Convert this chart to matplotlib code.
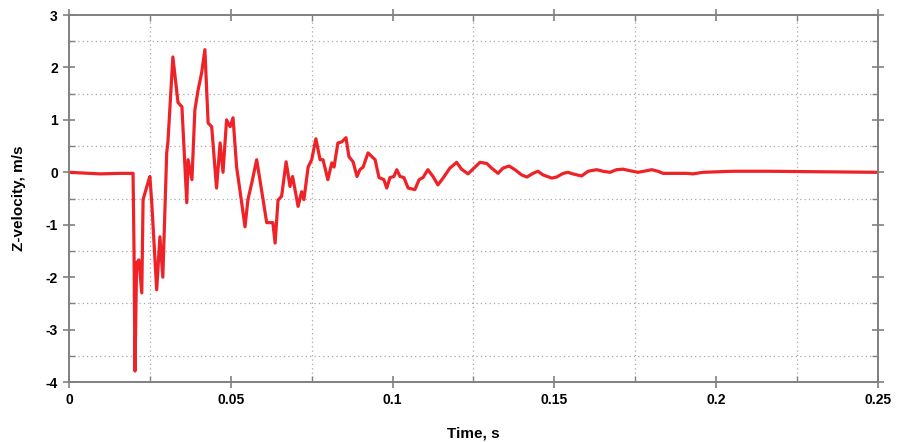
import matplotlib
matplotlib.use("Agg")
import matplotlib.pyplot as plt
from matplotlib.ticker import MultipleLocator

# time (s) and Z-velocity (m/s)
time = [0.0, 0.0096, 0.0158, 0.0198, 0.0201, 0.0204, 0.0209, 0.0216, 0.0225, 0.0229,
        0.0244, 0.0250, 0.0256, 0.0271, 0.0281, 0.0290, 0.0302, 0.0306, 0.0321, 0.0337,
        0.0349, 0.0364, 0.0368, 0.0380, 0.0389, 0.0399, 0.0410, 0.0420, 0.0430, 0.0441,
        0.0456, 0.0467, 0.0476, 0.0487, 0.0498, 0.0507, 0.0518, 0.0528, 0.0544, 0.0553,
        0.0565, 0.0580, 0.0590, 0.0611, 0.0630, 0.0637, 0.0646, 0.0657, 0.0671, 0.0683,
        0.0691, 0.0708, 0.0719, 0.0726, 0.0739, 0.0750, 0.0763, 0.0776, 0.0785, 0.0800,
        0.0812, 0.0819, 0.0831, 0.0843, 0.0856, 0.0865, 0.0878, 0.0890, 0.0899, 0.0909,
        0.0924, 0.0946, 0.0958, 0.0973, 0.0982, 0.0992, 0.1004, 0.1013, 0.1023, 0.1035,
        0.1048, 0.1069, 0.1082, 0.1094, 0.1109, 0.1125, 0.1140, 0.1156, 0.1177, 0.1198,
        0.1213, 0.1233, 0.1248, 0.1270, 0.1291, 0.1306, 0.1326, 0.1341, 0.1360, 0.1378,
        0.1399, 0.1415, 0.1434, 0.1449, 0.1465, 0.1492, 0.1507, 0.1527, 0.1542, 0.1557,
        0.1584, 0.1604, 0.1631, 0.1650, 0.1672, 0.1692, 0.1712, 0.1734, 0.1758, 0.1785,
        0.1801, 0.1820, 0.1836, 0.1909, 0.1928, 0.1959, 0.2052, 0.2157, 0.2500]
velocity = [0.0, -0.03, -0.02, -0.02, -1.5, -3.79, -1.73, -1.67, -2.30, -0.52,
            -0.20, -0.08, -0.60, -2.24, -1.23, -2.00, 0.37, 0.60, 2.20, 1.33,
            1.25, -0.58, 0.24, -0.14, 1.19, 1.57, 1.90, 2.34, 0.94, 0.87,
            -0.30, 0.56, 0.00, 1.00, 0.87, 1.04, 0.10, -0.33, -1.04, -0.52,
            -0.20, 0.24, -0.14, -0.96, -0.96, -1.35, -0.53, -0.46, 0.20, -0.27,
            -0.08, -0.65, -0.37, -0.52, 0.10, 0.24, 0.64, 0.24, 0.24, -0.14,
            0.18, 0.10, 0.56, 0.58, 0.66, 0.30, 0.20, -0.08, 0.05, 0.10,
            0.37, 0.24, -0.10, -0.14, -0.30, -0.10, -0.08, 0.05, -0.08, -0.10,
            -0.30, -0.33, -0.14, -0.10, 0.05, -0.08, -0.24, -0.11, 0.08, 0.19,
            0.06, -0.03, 0.06, 0.19, 0.17, 0.08, -0.02, 0.08, 0.12, 0.05,
            -0.05, -0.09, -0.02, 0.02, -0.05, -0.11, -0.09, -0.02, 0.00, -0.03,
            -0.07, 0.02, 0.05, 0.02, 0.00, 0.05, 0.06, 0.03, 0.00, 0.03,
            0.05, 0.02, -0.02, -0.02, -0.03, 0.00, 0.02, 0.02, 0.00]

x_ticks = [0, 0.05, 0.1, 0.15, 0.2, 0.25]
x_labels = ["0", "0.05", "0.1", "0.15", "0.2", "0.25"]
y_ticks = [-4, -3, -2, -1, 0, 1, 2, 3]

plt.rcParams['font.family'] = ['Liberation Sans', 'DejaVu Sans']
plt.rcParams['axes.unicode_minus'] = False

fig = plt.figure(figsize=(8.97, 4.42), dpi=100)
ax = fig.add_axes([0.0769, 0.1357, 0.9019, 0.8303])

ax.plot(time, velocity, color='#ee2227', linewidth=2.3, solid_joinstyle='round')

ax.set_xlim(0, 0.25)
ax.set_ylim(-4, 3)
ax.set_xticks(x_ticks)
ax.set_xticklabels(x_labels)
ax.set_yticks(y_ticks)
ax.xaxis.set_minor_locator(MultipleLocator(0.025))
ax.yaxis.set_minor_locator(MultipleLocator(0.5))

ax.grid(which='minor', color='#a8a8a8', linestyle=(0, (1, 2.5)), linewidth=0.9)
ax.grid(which='major', visible=False)

for s in ax.spines.values():
    s.set_color('#808080')
    s.set_linewidth(1.4)

ax.tick_params(which='major', direction='inout', length=9, width=1.2, color='#808080',
               top=True, right=True, labelsize=10)
ax.tick_params(which='minor', direction='in', length=4, width=1.0, color='#808080',
               top=True, right=True)
for lab in ax.get_xticklabels() + ax.get_yticklabels():
    lab.set_fontweight('bold')

ax.set_xlabel("Time, s", fontsize=11, fontweight='bold', labelpad=14)
ax.set_ylabel("Z-velocity, m/s", fontsize=11, fontweight='bold', labelpad=14)

fig.savefig("out.png", dpi=100)
